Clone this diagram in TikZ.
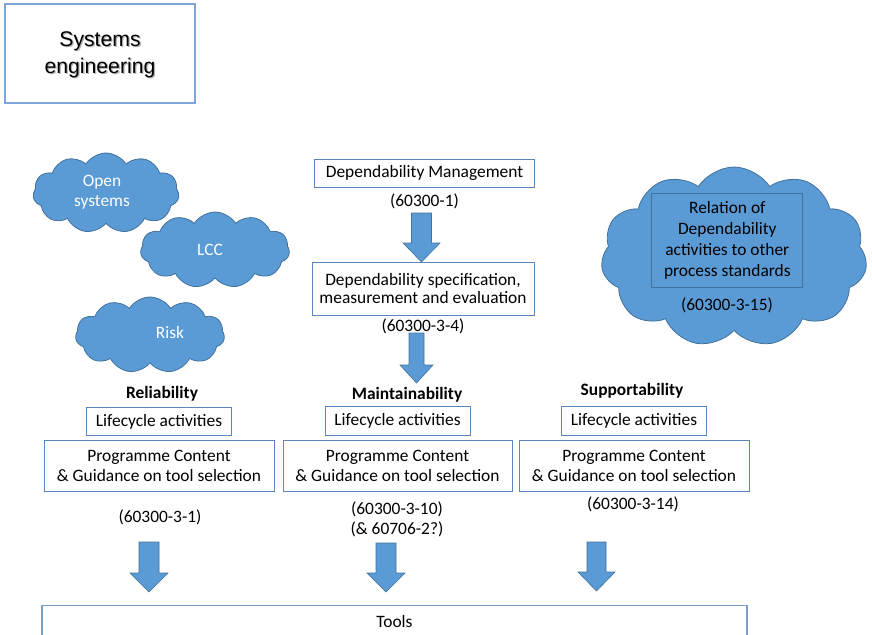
\documentclass[tikz,border=0pt]{standalone}
\usepackage{fontspec}
\setmainfont{Carlito}
\newfontfamily\arialfont{Liberation Sans}
\usetikzlibrary{shapes.symbols}
\definecolor{cloudfill}{HTML}{5B9BD5}
\definecolor{cloudline}{HTML}{41719C}
\definecolor{boxline}{HTML}{5A86BC}
\definecolor{sysline}{HTML}{7EA6DB}
% block arrow pointing down: centre x, top, neck, tip, half shaft width, half head width
\newcommand\bkarrow[6]{%
  \filldraw[fill=cloudfill,draw=cloudline,line width=0.6pt]
    (#1-#5,#2) -- (#1+#5,#2) -- (#1+#5,#3) -- (#1+#6,#3) -- (#1,#4)
    -- (#1-#6,#3) -- (#1-#5,#3) -- cycle;}
\tikzset{
  every node/.style={font=\fontsize{17.4}{20}\selectfont, inner sep=0pt, align=center},
  box/.style={draw=boxline, line width=1pt},
  plain/.style={},
  head/.style={font=\fontsize{17.4}{20}\selectfont\bfseries},
  puff/.style={cloud, cloud puffs=11, cloud puff arc=115, fill=cloudfill,
               draw=cloudline, line width=0.8pt},
  cloudtext/.style={text=white},
}
\begin{document}
\begin{tikzpicture}[x=1pt,y=-1pt]
\useasboundingbox (0,0) rectangle (872,634);
\clip (0,0) rectangle (872,634);

% title box
\node[draw=sysline, line width=1.2pt, minimum width=190, minimum height=99] (sys) at (100,53.5) {};
\node[text=black!30, font=\arialfont\fontsize{21.2}{27}\selectfont] (sysshadow) at (101.3,55.8) {Systems\\engineering};
\node[font=\arialfont\fontsize{21.2}{27}\selectfont] (systext) at (100,54.5) {Systems\\engineering};

% clouds on the left
\node[puff, minimum width=146, minimum height=80] (open) at (106,193) {};
\node[cloudtext] (opentext) at (102,192) {Open\\systems};
\node[puff, minimum width=149, minimum height=76] (lcc) at (215,250) {};
\node[cloudtext] (lcctext) at (210,250) {LCC};
\node[puff, minimum width=149, minimum height=76] (risk) at (150,335) {};
\node[cloudtext] (risktext) at (170,333) {Risk};

% large cloud on the right
\node[puff, minimum width=266, minimum height=180] (rel) at (734,257) {};
\node[draw=cloudline, line width=0.8pt, minimum width=151, minimum height=94,
      font=\fontsize{17.4}{21}\selectfont] (relbox) at (727.3,240) {Relation of\\Dependability\\activities to other\\process standards};
\node (relref) at (727,305) {(60300-3-15)};

% central column
\node[box, minimum width=220, minimum height=28] (dm) at (424.5,173) {Dependability Management};
\node (dmref) at (424.5,201) {(60300-1)};
\bkarrow{421.5}{213}{243}{262}{10}{18.5}
\node[box, minimum width=222, minimum height=53, font=\fontsize{17.4}{18.5}\selectfont] (spec) at (423,288.5) {Dependability specification,\\measurement and evaluation};
\node (specref) at (423,326) {(60300-3-4)};
\bkarrow{416.5}{333}{365}{383}{7.5}{16.5}

% three disciplines
\node[head] (relia) at (162,394) {Reliability};
\node[head] (maint) at (407,395) {Maintainability};
\node[head] (supp) at (632,391) {Supportability};

\node[box, minimum width=145, minimum height=28] (lc1) at (159,421.5) {Lifecycle activities};
\node[box, minimum width=145, minimum height=29] (lc2) at (397.5,421) {Lifecycle activities};
\node[box, minimum width=145, minimum height=29] (lc3) at (634,421) {Lifecycle activities};

\node[box, minimum width=230, minimum height=51] (pg1) at (159,465.5) {Programme Content\\\& Guidance on tool selection};
\node[box, minimum width=229, minimum height=51] (pg2) at (397.5,466) {Programme Content\\\& Guidance on tool selection};
\node[box, minimum width=230, minimum height=51] (pg3) at (634,466) {Programme Content\\\& Guidance on tool selection};

\node (ref1) at (160,517) {(60300-3-1)};
\node (ref2) at (397,519) {(60300-3-10)\\(\& 60706-2?)};
\node (ref3) at (633,504) {(60300-3-14)};

\bkarrow{149}{542}{573}{592}{10}{19}
\bkarrow{386}{543}{573}{592}{10}{19}
\bkarrow{596.5}{542}{572}{591}{9.5}{18.5}

% tools bar, running past the lower edge
\node[draw=boxline!80, line width=1.4pt, minimum width=705, minimum height=32, anchor=north] (tools) at (394.5,605) {Tools};
\end{tikzpicture}
\end{document}
